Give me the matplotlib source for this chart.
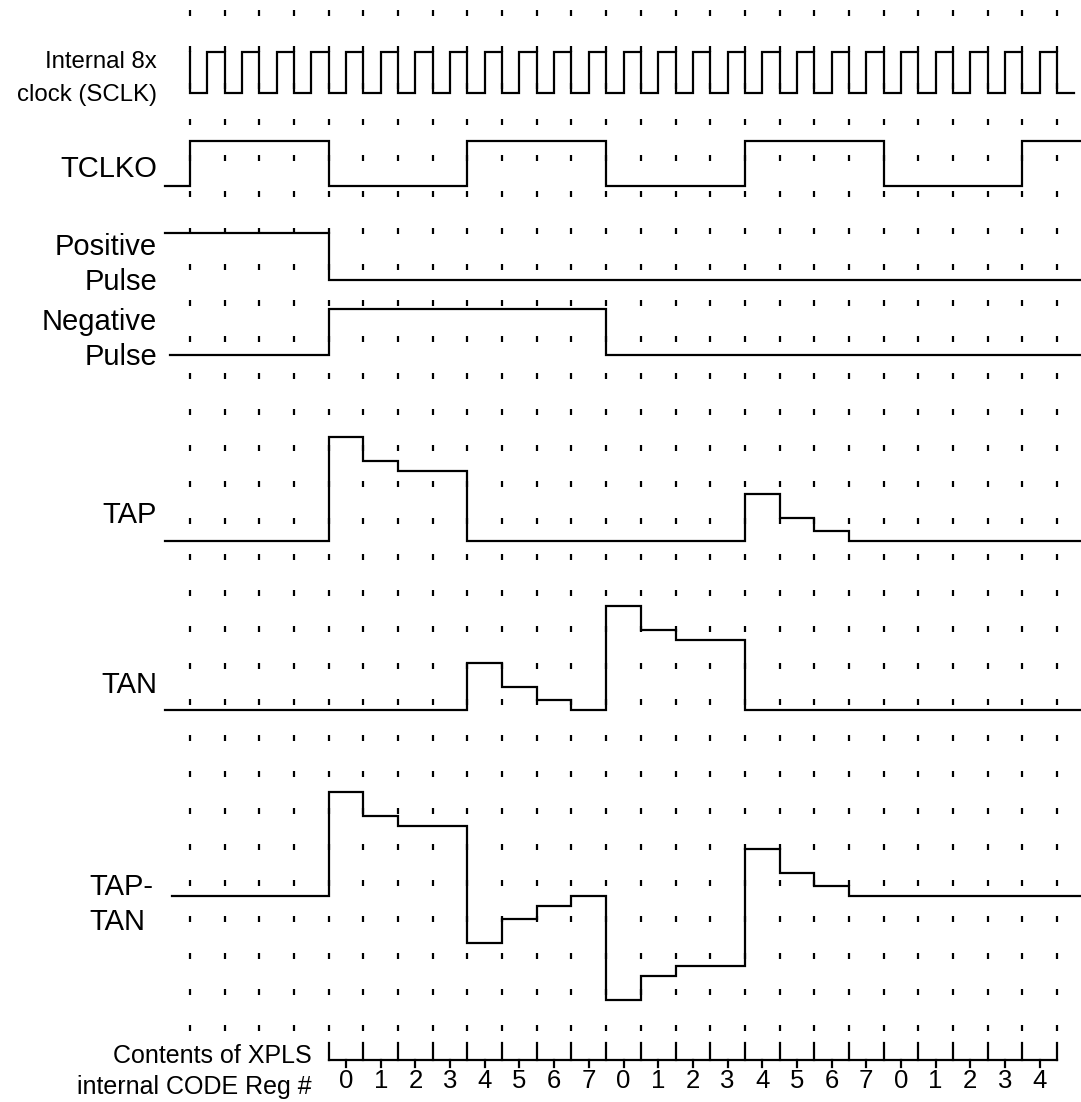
import numpy as np
import matplotlib.pyplot as plt

plt.rcParams['font.family'] = ['Liberation Sans', 'DejaVu Sans']

# time axis in SCLK periods, t = 0 is the first dotted column
n_cols = 26
col_px = 34.68
t_end = (1081 - 190) / col_px

# XPLS code register contents, one per SCLK period starting at t = 4
codes = [0, 1, 2, 3, 4, 5, 6, 7, 0, 1, 2, 3, 4, 5, 6, 7, 0, 1, 2, 3, 4]
code_start = 4

# step amplitude for each code value
amp_big = [104, 80, 70, 70]      # codes 0..3
amp_small = [47, 23, 10, 0]      # codes 4..7

# which signal carries the pulse in each 4-period slot (slot 1 = t 4..8, ...)
tap_slots = {1: 'big', 4: 'small'}
tan_slots = {2: 'small', 3: 'big'}

# trace levels (y in pixels, top = 0)
clk_hi, clk_lo = 52, 93
tclko_hi, tclko_lo = 141, 186
pos_hi, pos_lo = 233, 280
neg_hi, neg_lo = 309, 355
tap_base = 541
tan_base = 710
diff_base = 896

lw = 1.6


def px2t(x):
    return (x - 190) / col_px


def step_line(ax, edges, levels, x0, x1):
    xs = [x0]
    ys = [levels[0]]
    for e, a, b in zip(edges, levels[:-1], levels[1:]):
        xs += [e, e]
        ys += [a, b]
    xs.append(x1)
    ys.append(levels[-1])
    ax.plot(xs, ys, color='black', lw=lw, solid_joinstyle='miter')


def slot_levels(slots):
    vals = []
    for k in range(7):
        kind = slots.get(k)
        if kind == 'big':
            vals += amp_big
        elif kind == 'small':
            vals += amp_small
        else:
            vals += [0, 0, 0, 0]
    return np.array(vals[:n_cols - 1], dtype=float)


def analog(ax, vals, base, x0):
    levels = [base] + [base - v for v in vals] + [base]
    e2, l2 = [], [levels[0]]
    for e, lv in zip(range(n_cols), levels[1:]):
        if lv != l2[-1]:
            e2.append(e)
            l2.append(lv)
    step_line(ax, e2, l2, x0, t_end)


fig = plt.figure(figsize=(10.81, 11.02), dpi=100)
ax = fig.add_axes([0, 0, 1, 1])
ax.set_xlim(px2t(0), t_end)
ax.set_ylim(1102, 0)
ax.axis('off')

# dotted grid
rows = 13 + 36.25 * np.arange(29)
tt, rr = np.meshgrid(np.arange(n_cols), rows)
ax.plot(tt.ravel(), rr.ravel(), ls='none', marker='|', ms=4.2, mew=1.6,
        color='black')

# internal 8x clock: falls on every column, rises half way
clk_edges = []
clk_lv = [clk_hi]
for k in range(n_cols):
    clk_edges.append(k)
    clk_lv.append(clk_lo)
    if k < n_cols - 1:
        clk_edges.append(k + 0.5)
        clk_lv.append(clk_hi)
step_line(ax, clk_edges, clk_lv, 0, 25.5)

# TCLKO
tck_edges = list(range(0, 25, 4))
tck_lv = [tclko_lo] + [tclko_hi if i % 2 == 0 else tclko_lo
                       for i in range(len(tck_edges))]
step_line(ax, tck_edges, tck_lv, px2t(165), t_end)

# positive / negative pulse
step_line(ax, [4], [pos_hi, pos_lo], px2t(165), t_end)
step_line(ax, [4, 12], [neg_lo, neg_hi, neg_lo], px2t(170), t_end)

# TAP, TAN and TAP-TAN
tap = slot_levels(tap_slots)
tan = slot_levels(tan_slots)
analog(ax, tap, tap_base, px2t(165))
analog(ax, tan, tan_base, px2t(165))
analog(ax, tap - tan, diff_base, px2t(172))

# code register scale
xa = np.arange(code_start, code_start + len(codes) + 1)
ax.plot([xa[0], xa[-1]], [1060, 1060], color='black', lw=lw)
for x in xa:
    ax.plot([x, x], [1043, 1060], color='black', lw=lw)
for i, c in enumerate(codes):
    x = code_start + i + 0.5
    ax.plot([x, x], [1060, 1067], color='black', lw=lw)
    ax.text(x, 1088, str(c), ha='center', va='baseline', fontsize=18.5)

# labels
lx = px2t(157)
ax.text(lx, 68, 'Internal 8x', ha='right', va='baseline', fontsize=17.3)
ax.text(lx, 101, 'clock (SCLK)', ha='right', va='baseline', fontsize=17.3)
ax.text(lx, 177, 'TCLKO', ha='right', va='baseline', fontsize=21)
ax.text(lx, 255, 'Positive', ha='right', va='baseline', fontsize=21)
ax.text(lx, 290, 'Pulse', ha='right', va='baseline', fontsize=21)
ax.text(lx, 330, 'Negative', ha='right', va='baseline', fontsize=21)
ax.text(lx, 365, 'Pulse', ha='right', va='baseline', fontsize=21)
ax.text(lx, 523, 'TAP', ha='right', va='baseline', fontsize=21)
ax.text(lx, 693, 'TAN', ha='right', va='baseline', fontsize=21)
ax.text(px2t(89), 895, 'TAP-', ha='left', va='baseline', fontsize=21)
ax.text(px2t(89), 930, 'TAN', ha='left', va='baseline', fontsize=21)
ax.text(px2t(312), 1063, 'Contents of XPLS', ha='right', va='baseline', fontsize=18)
ax.text(px2t(312), 1094, 'internal CODE Reg #', ha='right', va='baseline', fontsize=18)

fig.savefig('out.png', dpi=100)
